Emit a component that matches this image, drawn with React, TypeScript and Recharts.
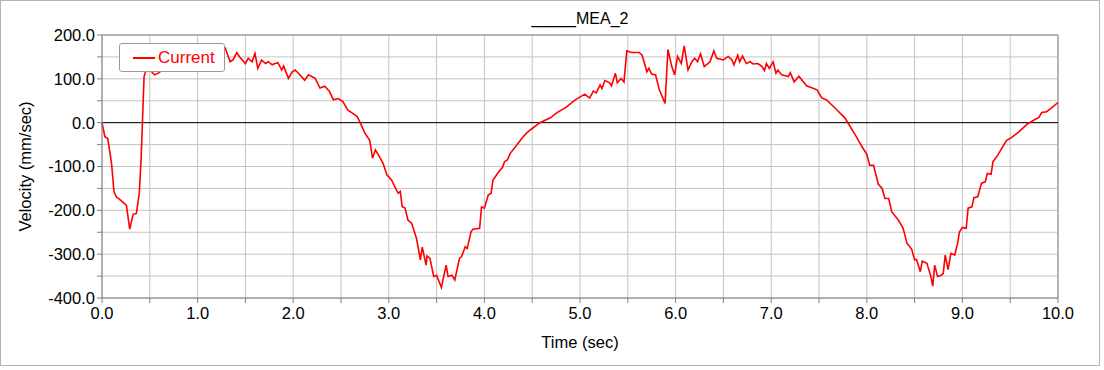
import React from "react";
import {
  LineChart, Line, XAxis, YAxis, CartesianGrid, ReferenceLine, Legend,
} from "recharts";

const timeSec = [
  0.0, 0.03, 0.06, 0.1, 0.125, 0.15, 0.2, 0.255, 0.29, 0.325, 0.36, 0.39, 0.41, 0.44, 0.46, 0.48,
  0.55, 0.59, 0.66, 0.82, 0.97, 1.13, 1.23, 1.29, 1.34, 1.37, 1.41, 1.44, 1.5, 1.53, 1.57, 1.6,
  1.63, 1.67, 1.71, 1.74, 1.78, 1.81, 1.84, 1.88, 1.9, 1.95, 1.99, 2.02, 2.05, 2.12, 2.16, 2.23,
  2.28, 2.33, 2.38, 2.42, 2.47, 2.52, 2.57, 2.63, 2.67, 2.7, 2.75, 2.8, 2.83, 2.86, 2.91, 2.94,
  2.98, 3.03, 3.08, 3.1, 3.12, 3.14, 3.17, 3.2, 3.24, 3.29, 3.33, 3.35, 3.39, 3.4, 3.43, 3.47,
  3.5, 3.55, 3.6, 3.62, 3.66, 3.69, 3.74, 3.76, 3.8, 3.82, 3.86, 3.88, 3.95, 3.97, 4.0, 4.04,
  4.07, 4.09, 4.15, 4.19, 4.21, 4.24, 4.27, 4.34, 4.39, 4.44, 4.49, 4.58, 4.69, 4.76, 4.86, 4.95,
  5.05, 5.1, 5.14, 5.17, 5.21, 5.23, 5.26, 5.31, 5.33, 5.37, 5.39, 5.43, 5.46, 5.49, 5.54, 5.62,
  5.65, 5.7, 5.72, 5.75, 5.79, 5.83, 5.89, 5.92, 5.96, 5.99, 6.02, 6.06, 6.09, 6.13, 6.17, 6.2,
  6.23, 6.26, 6.3, 6.36, 6.4, 6.43, 6.5, 6.55, 6.59, 6.61, 6.65, 6.67, 6.7, 6.74, 6.78, 6.81,
  6.86, 6.9, 6.93, 6.95, 6.98, 7.02, 7.05, 7.07, 7.11, 7.18, 7.2, 7.24, 7.29, 7.37, 7.48, 7.53,
  7.58, 7.67, 7.77, 7.81, 7.89, 7.95, 8.0, 8.03, 8.07, 8.12, 8.16, 8.19, 8.23, 8.26, 8.33, 8.38,
  8.42, 8.45, 8.47, 8.5, 8.52, 8.56, 8.58, 8.63, 8.64, 8.67, 8.69, 8.71, 8.74, 8.78, 8.8, 8.82,
  8.85, 8.88, 8.92, 8.95, 8.97, 9.0, 9.04, 9.06, 9.1, 9.12, 9.16, 9.2, 9.24, 9.26, 9.3, 9.32,
  9.37, 9.41, 9.46, 9.52, 9.59, 9.68, 9.75, 9.8, 9.83, 9.88, 9.93, 10.0,
];

const velocity = [
  0, -32, -36, -93, -157, -169, -178, -188, -243, -209, -207, -161, -78, 105, 120, 125,
  109, 113, 125, 135, 145, 155, 162, 170, 139, 143, 160, 150, 135, 147, 139, 158,
  124, 143, 135, 139, 132, 135, 137, 120, 129, 101, 116, 120, 114, 97, 109, 101,
  79, 83, 71, 52, 55, 48, 29, 20, 14, 0, -24, -40, -81, -62, -81, -93,
  -119, -131, -154, -161, -157, -192, -195, -222, -230, -264, -313, -284, -325, -304, -309, -351,
  -348, -376, -325, -351, -348, -359, -309, -306, -283, -287, -249, -243, -241, -192, -195, -165,
  -161, -131, -112, -102, -89, -85, -70, -51, -36, -24, -15, 0, 11, 23, 36, 52,
  65, 56, 72, 68, 86, 78, 96, 91, 84, 113, 91, 101, 93, 164, 160, 160,
  154, 116, 124, 111, 109, 75, 44, 167, 128, 109, 151, 135, 175, 120, 139, 147,
  139, 157, 128, 139, 164, 147, 143, 151, 143, 132, 154, 139, 152, 135, 139, 134,
  135, 129, 119, 135, 124, 139, 113, 120, 109, 105, 114, 93, 106, 84, 75, 56,
  52, 33, 11, -3, -32, -55, -72, -97, -97, -140, -150, -173, -173, -203, -222, -241,
  -275, -283, -289, -313, -312, -340, -316, -321, -329, -351, -373, -325, -351, -348, -344, -302,
  -335, -298, -302, -275, -249, -239, -241, -195, -192, -171, -169, -138, -135, -116, -118, -89,
  -74, -59, -41, -33, -21, -3, 6, 12, 23, 25, 33, 46,
];

const xTicks = [0, 0.5, 1, 1.5, 2, 2.5, 3, 3.5, 4, 4.5, 5, 5.5, 6, 6.5, 7, 7.5, 8, 8.5, 9, 9.5, 10];
const yTicks = [-400, -350, -300, -250, -200, -150, -100, -50, 0, 50, 100, 150, 200];

const data = timeSec.map((t, i) => ({ t, v: velocity[i] }));

const FONT = "'Liberation Sans', Arial, Helvetica, sans-serif";

function LegendBox() {
  return (
    <div
      style={{
        width: 104,
        height: 27,
        border: "1px solid #999",
        borderRadius: 3,
        background: "#fff",
        display: "flex",
        alignItems: "center",
        fontFamily: FONT,
        fontSize: 17,
        color: "#ff0000",
      }}
    >
      <span style={{ display: "inline-block", width: 22, height: 2, background: "#ff0000", marginLeft: 13, marginRight: 3 }} />
      Current
    </div>
  );
}

export default function App() {
  return (
    <div style={{ position: "absolute", left: 0, top: 0, width: 1104, height: 370, background: "#fff" }}>
      <LineChart
        width={1104}
        height={370}
        data={data}
        margin={{ top: 35, right: 46, bottom: 0, left: 0 }}
        style={{ fontFamily: FONT }}
      >
        <CartesianGrid stroke="#c4c4c4" strokeWidth={1} />
        <XAxis
          type="number"
          dataKey="t"
          domain={[0, 10]}
          ticks={xTicks}
          interval={0}
          height={72}
          stroke="#808080"
          tickSize={5}
          tickMargin={4}
          tick={{ fill: "#000", fontSize: 16.5 }}
          tickFormatter={(v: number) => (Number.isInteger(v) ? v.toFixed(1) : "")}
          label={{ value: "Time (sec)", position: "insideBottom", offset: 22, fill: "#000", fontSize: 16.5 }}
        />
        <YAxis
          type="number"
          domain={[-400, 200]}
          ticks={yTicks}
          interval={0}
          width={102}
          stroke="#808080"
          tickSize={5}
          tickMargin={2}
          tick={{ fill: "#000", fontSize: 16.5 }}
          tickFormatter={(v: number) => (v % 100 === 0 ? v.toFixed(1) : "")}
          label={{
            value: "Velocity (mm/sec)",
            angle: -90,
            position: "insideLeft",
            offset: 25,
            fill: "#000",
            fontSize: 16.5,
            style: { textAnchor: "middle" },
          }}
        />
        <ReferenceLine y={200} stroke="#b4b4b4" strokeWidth={2} />
        <ReferenceLine x={10} stroke="#b4b4b4" strokeWidth={2} />
        <ReferenceLine y={0} stroke="#000" strokeWidth={1} />
        <Line
          type="linear"
          dataKey="v"
          name="Current"
          stroke="#ff0000"
          strokeWidth={1.6}
          dot={false}
          isAnimationActive={false}
        />
        <Legend
          layout="vertical"
          align="center"
          verticalAlign="middle"
          wrapperStyle={{ top: 43, left: 119, width: "auto" }}
          content={() => <LegendBox />}
        />
      </LineChart>
      <div
        style={{
          position: "absolute",
          left: 0,
          top: 10,
          width: 1160,
          textAlign: "center",
          fontFamily: FONT,
          fontSize: 16,
          color: "#000",
        }}
      >
        _____MEA_2
      </div>
      <div
        style={{
          position: "absolute",
          left: 0,
          top: 0,
          width: 1100,
          height: 366,
          boxSizing: "border-box",
          border: "1px solid #b4b4b4",
          pointerEvents: "none",
        }}
      />
    </div>
  );
}
